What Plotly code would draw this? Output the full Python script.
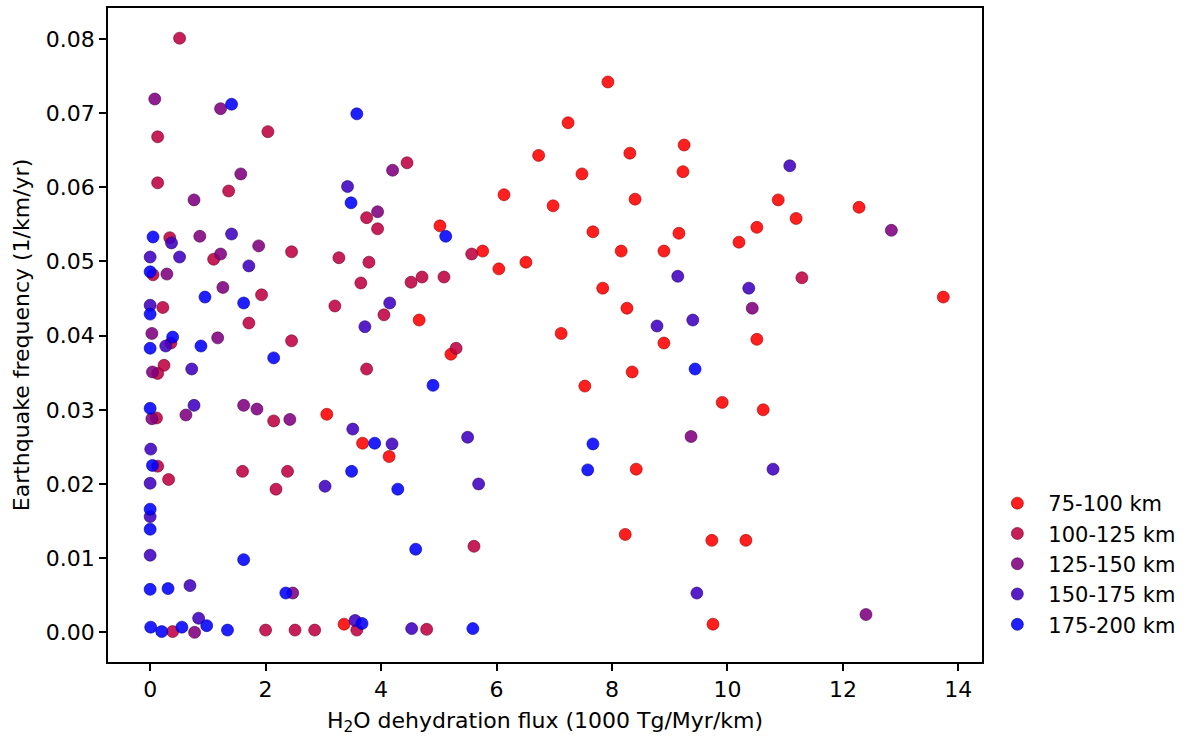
import plotly.graph_objects as go

# ---- data ----
labels = ["75-100 km", "100-125 km", "125-150 km", "150-175 km", "175-200 km"]
base_rgb = [(255, 0, 0), (191, 0, 64), (128, 0, 128), (64, 0, 191), (0, 0, 255)]

x_75_100 = [7.93, 7.24, 6.73, 9.25, 8.31, 7.48, 9.23, 6.13, 8.40, 6.98, 12.28, 10.88, 11.19, 5.02,
            10.51, 9.16, 7.67, 10.20, 5.76, 8.16, 8.90, 6.51, 6.04, 7.84, 8.26, 4.66, 13.74, 7.12,
            8.90, 10.51, 5.21, 8.35, 7.53, 9.91, 10.62, 3.06, 3.68, 4.14, 8.42, 8.23, 9.73, 10.32,
            9.75, 3.36]
y_75_100 = [0.0742, 0.0687, 0.0643, 0.0657, 0.0646, 0.0618, 0.0621, 0.0590, 0.0584, 0.0575, 0.0573,
            0.0583, 0.0558, 0.0548, 0.0546, 0.0538, 0.0540, 0.0526, 0.0514, 0.0514, 0.0514, 0.0499,
            0.0490, 0.0464, 0.0437, 0.0421, 0.0452, 0.0403, 0.0390, 0.0395, 0.0375, 0.0351, 0.0332,
            0.0310, 0.0300, 0.0294, 0.0255, 0.0237, 0.0220, 0.0132, 0.0124, 0.0124, 0.0011, 0.0011]

x_100_125 = [0.51, 0.13, 2.04, 4.45, 0.13, 1.36, 3.75, 3.94, 0.34, 2.45, 1.10, 3.27, 3.79, 5.57,
             0.05, 4.52, 4.71, 5.09, 3.65, 1.93, 0.22, 3.20, 4.05, 1.71, 0.36, 2.45, 5.30, 0.24,
             0.13, 3.75, 0.11, 2.14, 0.13, 0.32, 1.60, 2.38, 2.18, 5.61, 0.39, 2.00, 2.51, 2.85,
             3.58, 4.79, 11.29]
y_100_125 = [0.0801, 0.0668, 0.0675, 0.0633, 0.0606, 0.0595, 0.0559, 0.0544, 0.0532, 0.0513, 0.0503,
             0.0505, 0.0499, 0.0510, 0.0482, 0.0472, 0.0479, 0.0479, 0.0471, 0.0455, 0.0438, 0.0440,
             0.0428, 0.0417, 0.0390, 0.0393, 0.0383, 0.0360, 0.0349, 0.0355, 0.0289, 0.0285, 0.0224,
             0.0206, 0.0217, 0.0217, 0.0193, 0.0116, 0.0001, 0.0003, 0.0003, 0.0003, 0.0003, 0.0004,
             0.0478]

x_125_150 = [0.08, 1.22, 1.57, 0.76, 4.20, 3.94, 0.86, 1.88, 1.22, 0.29, 1.26, 0.03, 1.17, 0.04,
             0.62, 1.62, 1.85, 2.42, 2.47, 0.77, 12.84, 10.43, 9.37, 12.40, 0.03]
y_125_150 = [0.0719, 0.0706, 0.0618, 0.0583, 0.0623, 0.0567, 0.0534, 0.0521, 0.0510, 0.0483, 0.0465,
             0.0403, 0.0397, 0.0351, 0.0293, 0.0306, 0.0301, 0.0287, 0.0053, 0.0000, 0.0542, 0.0437,
             0.0264, 0.0024, 0.0288]

x_150_175 = [3.42, 1.41, 0.37, 0.00, 0.51, 1.71, 0.00, 4.15, 3.72, 0.27, 0.72, 0.76, 3.51, 4.19,
             0.01, 0.00, 3.03, 0.00, 0.00, 0.69, 0.84, 3.55, 4.53, 11.08, 9.14, 10.37, 9.40, 8.78,
             10.79, 9.47, 5.50, 5.69]
y_150_175 = [0.0601, 0.0537, 0.0525, 0.0506, 0.0506, 0.0494, 0.0441, 0.0444, 0.0412, 0.0386, 0.0355,
             0.0306, 0.0274, 0.0254, 0.0247, 0.0201, 0.0197, 0.0156, 0.0104, 0.0063, 0.0019, 0.0016,
             0.0005, 0.0629, 0.0480, 0.0464, 0.0421, 0.0413, 0.0220, 0.0053, 0.0263, 0.0200]

x_175_200 = [1.41, 3.58, 3.48, 5.12, 0.05, 0.00, 0.95, 1.62, 0.00, 0.39, 0.00, 0.88, 2.14, 4.90,
             0.00, 0.04, 3.49, 3.89, 4.29, 0.00, 0.00, 1.62, 4.60, 0.00, 0.31, 2.35, 0.01, 0.20,
             0.55, 0.98, 1.34, 3.67, 5.59, 7.67, 7.58, 9.44]
y_175_200 = [0.0712, 0.0699, 0.0579, 0.0534, 0.0533, 0.0486, 0.0452, 0.0444, 0.0429, 0.0398, 0.0383,
             0.0386, 0.0370, 0.0333, 0.0302, 0.0225, 0.0217, 0.0255, 0.0193, 0.0166, 0.0139, 0.0098,
             0.0112, 0.0058, 0.0059, 0.0053, 0.0007, 0.0001, 0.0007, 0.0009, 0.0003, 0.0012, 0.0005,
             0.0254, 0.0219, 0.0355]

x_ticks = [0, 2, 4, 6, 8, 10, 12, 14]
y_ticks = [0.00, 0.01, 0.02, 0.03, 0.04, 0.05, 0.06, 0.07, 0.08]

series_x = [x_75_100, x_100_125, x_125_150, x_150_175, x_175_200]
series_y = [y_75_100, y_100_125, y_125_150, y_150_175, y_175_200]

FONT = "DejaVu Sans"
FS = 22
fig = go.Figure()
for i, (lab, rgb, xs, ys) in enumerate(zip(labels, base_rgb, series_x, series_y)):
    r, g, b = rgb
    fig.add_trace(go.Scatter(
        x=xs, y=ys, mode="markers", name=lab, legendgroup=lab,
        marker=dict(size=12, color=f"rgba({r},{g},{b},0.88)",
                    line=dict(width=1, color=f"rgba({int(r*0.6)},{int(g*0.6)},{int(b*0.6)},0.6)")),
    ))

axis_common = dict(
    showline=True, linecolor="black", linewidth=1.7, mirror=True,
    ticks="outside", ticklen=7, tickwidth=1.6, tickcolor="black",
    showgrid=False, zeroline=False,
    tickfont=dict(family=FONT, size=FS, color="black"),
)

fig.update_layout(
    width=1196, height=740,
    paper_bgcolor="white", plot_bgcolor="white",
    margin=dict(l=108, r=214, t=8, b=78, autoexpand=False),
    font=dict(family=FONT, size=FS, color="black"),
    xaxis=dict(range=[-0.73, 14.41], tickvals=x_ticks, ticktext=[str(v) for v in x_ticks],
               title=dict(text="H<sub>2</sub>O dehydration flux (1000 Tg/Myr/km)",
                          font=dict(family=FONT, size=FS), standoff=11),
               **axis_common),
    yaxis=dict(range=[-0.0040, 0.08417], tickvals=y_ticks, ticktext=[f"{v:.2f}" for v in y_ticks],
               title=dict(text="Earthquake frequency (1/km/yr)",
                          font=dict(family=FONT, size=FS), standoff=10),
               **axis_common),
    legend=dict(x=1.005, xanchor="left", y=0.026, yanchor="bottom",
                traceorder="grouped", tracegroupgap=0, itemwidth=52,
                font=dict(family=FONT, size=21, color="black"),
                bgcolor="rgba(0,0,0,0)", borderwidth=0),
)

fig.write_html("out.html")
